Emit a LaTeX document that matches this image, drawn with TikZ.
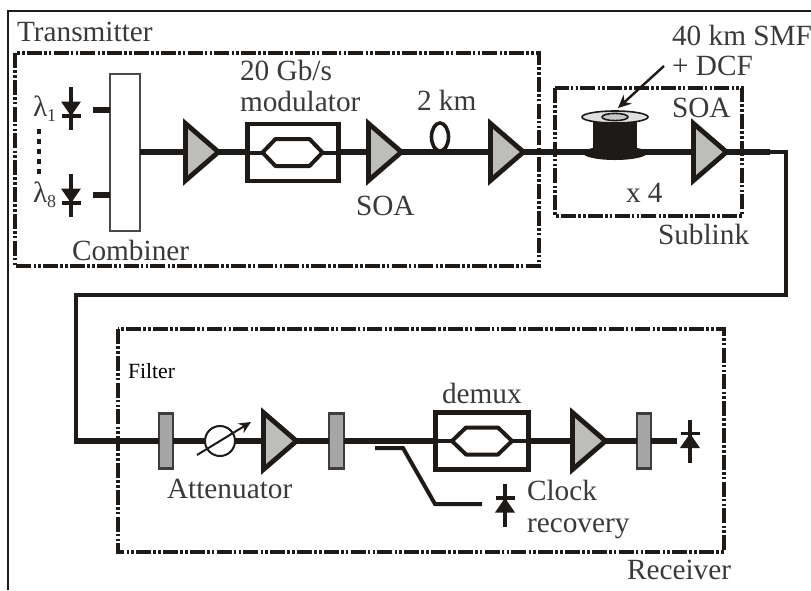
\documentclass[tikz,border=0pt]{standalone}
\usepackage{fontspec}
\setmainfont{Liberation Serif}
\usetikzlibrary{shapes.geometric,arrows.meta,calc}
\definecolor{ink}{HTML}{1E1A18}
\definecolor{txt}{HTML}{3A3A3A}
\definecolor{ampfill}{HTML}{BDBDBB}
\definecolor{filtfill}{HTML}{A6A6A6}
\tikzset{
  ampnode/.style={isosceles triangle,isosceles triangle stretches,shape border rotate=0,draw=ink,fill=ampfill,line width=4.8pt,
     minimum height=33pt,minimum width=57pt,inner sep=0pt,outer sep=0pt,anchor=apex,miter limit=10},
  filterbox/.style={rectangle,draw=ink!85,fill=filtfill,line width=2.4pt,minimum width=14.5pt,minimum height=55pt,inner sep=0pt,outer sep=0pt},
  modbox/.style={rectangle,draw=ink,line width=4.2pt,inner sep=0pt,outer sep=0pt},
  fiber/.style={draw=ink,line width=5.5pt},
  thinfiber/.style={draw=ink,line width=4pt},
  hexa/.style={draw=ink,line width=4pt,line join=round},
  zone/.style={draw=ink,line width=3.4pt,dash pattern=on 15pt off 2.2pt on 2.6pt off 2.2pt on 2.6pt off 2.2pt},
  lbl/.style={anchor=base west,inner sep=0pt,outer sep=0pt,text=txt,font=\fontsize{29.3}{30}\selectfont},
  diodeline/.style={draw=ink,line width=3.4pt},
}
% detector: arg1 name, arg2 x, arg3 y of centre, arg4 direction (+1 points down, -1 up)
\newcommand{\detector}[4]{%
  \coordinate (#1) at (#2,#3);
  \draw[diodeline] ($(#1)+(0,-21.5)$) -- ($(#1)+(0,21.5)$);
  \draw[diodeline] ($(#1)+(-9.5,#4*7.5)$) -- ($(#1)+(9.5,#4*7.5)$);
  \fill[ink] ($(#1)+(-10,-#4*7)$) -- ($(#1)+(10,-#4*7)$) -- ($(#1)+(0,#4*7.5)$) -- cycle;
}
% hexagon of an interferometer: arg1 name, arg2 centre x, arg3 half-width, arg4 half-flat
\newcommand{\hexagon}[5]{%
  \coordinate (#1L) at (#2-#3,#5);
  \coordinate (#1R) at (#2+#3,#5);
  \draw[hexa] (#1L) -- (#2-#4,#5-13.5) -- (#2+#4,#5-13.5) -- (#1R) -- (#2+#4,#5+13.5) -- (#2-#4,#5+13.5) -- cycle;
}
\begin{document}
\begin{tikzpicture}[x=1pt,y=-1pt]
\useasboundingbox (0,0) rectangle (811,590);
\fill[white] (0,0) rectangle (811,590);
% outer frame
\coordinate (fb) at (8,590); \coordinate (ft) at (8,11); \coordinate (fr) at (811,11);
\draw[ink,line width=2.5pt,line join=miter] (fb) -- (ft) -- (fr);
% zones
\draw[zone] (15,53) rectangle (539,266);
\draw[zone] (555,88) rectangle (742,216);
\draw[zone] (118,329) rectangle (724,552);
% transmitter
\node[rectangle,draw=ink!80,fill=white,line width=2pt,minimum width=30pt,minimum height=157pt,inner sep=0pt,outer sep=0pt] (comb) at (124.5,152) {};
\node[ampnode] (a1) at (218.5,152) {};
\node[modbox,minimum width=91pt,minimum height=57pt] (mod) at (293,152.5) {};
\node[ampnode] (a2) at (401.5,152) {};
\node[ampnode] (a3) at (523.5,152) {};
\hexagon{hA}{292.5}{30}{17}{152.5}
% spool
\node[rectangle,fill=ink,minimum width=44pt,minimum height=36pt,inner sep=0pt,outer sep=0pt] (spool) at (615,137) {};
\fill[ink] (615,153) ellipse (32 and 7);
\draw[ink,fill=gray!25,line width=1.6pt] (615,117) ellipse (33 and 6);
\draw[ink,fill=gray!45,line width=1.6pt] (615,117) ellipse (13 and 3.6);
\node[ampnode] (a4) at (726.5,152) {};
% receiver
\node[filterbox] (f1) at (166,441) {};
\node[circle,draw=ink,line width=2pt,minimum size=30pt,inner sep=0pt,outer sep=0pt] (att) at (220,441) {};
\node[ampnode] (a5) at (296.5,441) {};
\node[filterbox] (f2) at (336.5,441) {};
\node[modbox,minimum width=93pt,minimum height=57pt] (dmx) at (482,441) {};
\hexagon{hB}{482}{30}{16}{441}
\node[ampnode] (a6) at (605.5,441) {};
\node[filterbox] (f3) at (644,441) {};
% detectors
\detector{d1}{71}{108.5}{1}
\detector{d2}{71}{195.5}{1}
\detector{d3}{690}{441}{-1}
\detector{d4}{505}{505.5}{-1}
% fibres
\draw[fiber] (comb.east |- a1.apex) -- (a1.apex -| a1.west);
\draw[fiber] (a1.apex) -- (a1.apex -| mod.west);
\draw[thinfiber] (mod.west) -- (hAL);
\draw[thinfiber] (hAR) -- (mod.east);
\draw[fiber] (a2.apex -| mod.east) -- (a2.apex -| a2.west);
\draw[fiber] (a2.apex) -- (a3.apex -| a3.west);
\draw[fiber] (a3.apex) -- (a3.apex -| spool.west);
\draw[fiber] (a4.apex -| spool.east) -- (a4.apex -| a4.west);
\coordinate (s1) at (93,110); \coordinate (s2) at (93,194.5);
\draw[fiber,line width=6pt] (s1) -- (s1-|comb.west);
\draw[fiber,line width=6pt] (s2) -- (s2-|comb.west);
\coordinate (tA) at (770,152); \coordinate (tB) at (786,152); \coordinate (tC) at (786,295); \coordinate (tD) at (76,295); \coordinate (tE) at (76,441);
\draw[fiber] (a4.apex) -- (tA);
\draw[thinfiber,line join=miter] (tA) -- (tB) -- (tC) -- (tD) -- (tE);
\draw[fiber] (74,441) -- (f1.west);
\draw[fiber] (f1.east) -- (att.west);
\draw[fiber] (att.east) -- (a5.apex -| a5.west);
\draw[fiber] (a5.apex) -- (f2.west);
\draw[fiber] (f2.east) -- (dmx.west);
\draw[thinfiber] (dmx.west) -- (hBL);
\draw[thinfiber] (hBR) -- (dmx.east);
\draw[fiber] (dmx.east) -- (a6.apex -| a6.west);
\draw[fiber] (a6.apex) -- (f3.west);
\coordinate (e3) at (677,441);
\draw[fiber] (f3.east) -- (e3);
\coordinate (cA) at (375,448); \coordinate (cB) at (403,448); \coordinate (cC) at (435,504); \coordinate (cD) at (482,504);
\draw[thinfiber,line width=4pt,line join=miter] (cA) -- (cB) -- (cC) -- (cD);
% loop
\coordinate (lp) at (440,137);
\draw[ink,line width=3.6pt] (lp) ellipse (8.5 and 14);
% arrows
\coordinate (ar1) at (664,66); \coordinate (ar2) at (618,108);
\draw[ink,line width=2.4pt,-{Stealth[length=13pt,width=12pt]}] (ar1) -- (ar2);
\coordinate (ar3) at (197,455); \coordinate (ar4) at (251,422);
\draw[ink,line width=2pt,-{Stealth[length=12pt,width=11pt]}] (ar3) -- (ar4);
% dots
\coordinate (dt1) at (39,129); \coordinate (dt2) at (39,176);
\draw[ink,line width=4.5pt,dash pattern=on 4.5pt off 5.5pt] (dt1) -- (dt2);
% labels
\node[lbl] (t1) at (17,41.5) {Transmitter};
\node[lbl] (t2) at (240,80) {20 Gb/s};
\node[lbl] (t3) at (240,111) {modulator};
\node[lbl] (t4) at (417,110) {2 km};
\node[lbl] (t5) at (672,45) {40 km SMF};
\node[lbl] (t6) at (672,75) {+ DCF};
\node[lbl] (t7) at (672,117) {SOA};
\node[lbl] (t8) at (356,215) {SOA};
\node[lbl] (t9) at (626,202) {x 4};
\node[lbl] (t10) at (658,244) {Sublink};
\node[lbl] (t11) at (72,260) {Combiner};
\node[lbl] (t12) at (33,116) {λ\raisebox{-5pt}{\fontsize{18}{18}\selectfont 1}};
\node[lbl] (t13) at (33,202) {λ\raisebox{-5pt}{\fontsize{18}{18}\selectfont 8}};
\node[lbl,text=black,font=\fontsize{21.7}{22}\selectfont] (t14) at (128,378) {Filter};
\node[lbl] (t15) at (167,498) {Attenuator};
\node[lbl] (t16) at (442,403) {demux};
\node[lbl] (t17) at (527,500) {Clock};
\node[lbl] (t18) at (527,532) {recovery};
\node[lbl] (t19) at (627,579) {Receiver};
\end{tikzpicture}
\end{document}
